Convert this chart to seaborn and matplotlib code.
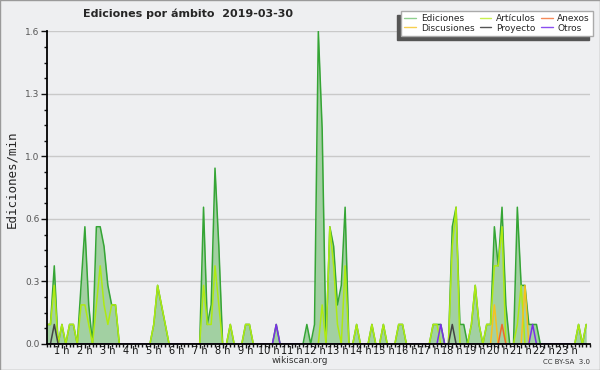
import numpy as np
import pandas as pd
import matplotlib
matplotlib.use("Agg")
import matplotlib.pyplot as plt
from matplotlib.lines import Line2D
from matplotlib.patches import Rectangle
import seaborn as sns

# 10-minute bins from 00:20 to 23:50 (edits per minute)
# row "0 h" = 00:20..00:50, then each row = h:00..h:50
ediciones = [
    0.1, 0.1, 0.4, 0.0,
    0.1, 0.0, 0.1, 0.1, 0.0, 0.3,   # 1 h
    0.6, 0.2, 0.0, 0.6, 0.6, 0.5,   # 2 h
    0.3, 0.2, 0.2, 0.0, 0.0, 0.0,   # 3 h
    0.0, 0.0, 0.0, 0.0, 0.0, 0.0,   # 4 h
    0.1, 0.3, 0.2, 0.1, 0.0, 0.0,   # 5 h
    0.0, 0.0, 0.0, 0.0, 0.0, 0.0,   # 6 h
    0.0, 0.7, 0.1, 0.2, 0.9, 0.5,   # 7 h
    0.0, 0.0, 0.1, 0.0, 0.0, 0.0,   # 8 h
    0.1, 0.1, 0.0, 0.0, 0.0, 0.0,   # 9 h
    0.0, 0.0, 0.1, 0.0, 0.0, 0.0,   # 10 h
    0.0, 0.0, 0.0, 0.0, 0.1, 0.0,   # 11 h
    0.1, 1.6, 1.1, 0.0, 0.6, 0.5,   # 12 h
    0.2, 0.3, 0.7, 0.0, 0.0, 0.1,   # 13 h
    0.0, 0.0, 0.0, 0.1, 0.0, 0.0,   # 14 h
    0.1, 0.0, 0.0, 0.0, 0.1, 0.1,   # 15 h
    0.0, 0.0, 0.0, 0.0, 0.0, 0.0,   # 16 h
    0.0, 0.1, 0.1, 0.1, 0.0, 0.0,   # 17 h
    0.6, 0.7, 0.1, 0.1, 0.0, 0.1,   # 18 h
    0.3, 0.1, 0.0, 0.1, 0.1, 0.6,   # 19 h
    0.4, 0.7, 0.2, 0.0, 0.0, 0.7,   # 20 h
    0.3, 0.3, 0.1, 0.1, 0.1, 0.0,   # 21 h
    0.0, 0.0, 0.0, 0.0, 0.0, 0.0,   # 22 h
    0.0, 0.0, 0.0, 0.1, 0.0, 0.1,   # 23 h
]

articulos = [
    0.1, 0.1, 0.3, 0.0,
    0.1, 0.0, 0.1, 0.1, 0.0, 0.2,
    0.2, 0.1, 0.0, 0.2, 0.4, 0.2,
    0.1, 0.2, 0.2, 0.0, 0.0, 0.0,
    0.0, 0.0, 0.0, 0.0, 0.0, 0.0,
    0.1, 0.3, 0.2, 0.1, 0.0, 0.0,
    0.0, 0.0, 0.0, 0.0, 0.0, 0.0,
    0.0, 0.3, 0.1, 0.1, 0.4, 0.2,
    0.0, 0.0, 0.1, 0.0, 0.0, 0.0,
    0.1, 0.1, 0.0, 0.0, 0.0, 0.0,
    0.0, 0.0, 0.0, 0.0, 0.0, 0.0,
    0.0, 0.0, 0.0, 0.0, 0.0, 0.0,
    0.0, 0.0, 0.2, 0.0, 0.6, 0.4,
    0.1, 0.0, 0.4, 0.0, 0.0, 0.1,
    0.0, 0.0, 0.0, 0.1, 0.0, 0.0,
    0.1, 0.0, 0.0, 0.0, 0.1, 0.1,
    0.0, 0.0, 0.0, 0.0, 0.0, 0.0,
    0.0, 0.1, 0.1, 0.0, 0.0, 0.0,
    0.5, 0.7, 0.0, 0.0, 0.0, 0.1,
    0.3, 0.1, 0.0, 0.1, 0.1, 0.4,
    0.4, 0.6, 0.0, 0.0, 0.0, 0.1,
    0.3, 0.0, 0.0, 0.0, 0.0, 0.0,
    0.0, 0.0, 0.0, 0.0, 0.0, 0.0,
    0.0, 0.0, 0.0, 0.1, 0.0, 0.1,
]

# sparse namespaces: (bin index, value), every other bin is zero
discusiones_pts = [(117, 0.2), (125, 0.3)]
anexos_pts = [(119, 0.1)]
proyecto_pts = [(2, 0.1), (106, 0.1)]
otros_pts = [(60, 0.1), (103, 0.1), (127, 0.1)]

hour_labels = [f"{h} h" for h in range(1, 24)]

series_names = ["Ediciones", "Artículos", "Discusiones", "Anexos", "Proyecto", "Otros"]
line_colors = {"Ediciones": "#35a535", "Artículos": "#aeea12", "Discusiones": "#f7c21e",
               "Anexos": "#f0682a", "Proyecto": "#444444", "Otros": "#7a2ee8"}
legend_colors = {"Ediciones": "#8fd08f", "Artículos": "#c8f050", "Discusiones": "#f7cf50",
                 "Anexos": "#f58a5a", "Proyecto": "#555555", "Otros": "#8a4ef0"}

n = len(ediciones)
hours = 1 / 3 + np.arange(n) / 6


def sparse_to_list(pts):
    vals = [0.0] * n
    for i, v in pts:
        vals[i] = v
    return vals


values = {
    "Ediciones": ediciones,
    "Artículos": articulos,
    "Discusiones": sparse_to_list(discusiones_pts),
    "Anexos": sparse_to_list(anexos_pts),
    "Proyecto": sparse_to_list(proyecto_pts),
    "Otros": sparse_to_list(otros_pts),
}
df = pd.concat([pd.DataFrame({"hora": hours, "valor": values[s], "serie": s}) for s in series_names],
               ignore_index=True)

bg = "#eeeff1"
sns.set_style("white")
plt.rcParams["font.family"] = ["DejaVu Sans"]

fig = plt.figure(figsize=(6, 3.7), dpi=100, facecolor=bg)
ax = fig.add_axes([0.0777, 0.0703, 0.9057, 0.845])
ax.set_facecolor(bg)

ax.fill_between(hours, ediciones, 0, color="#a2d0a2", lw=0, zorder=1.5)
sns.lineplot(data=df, x="hora", y="valor", hue="serie", hue_order=series_names,
             palette=line_colors, estimator=None, legend=False, linewidth=1.1, ax=ax)

ax.set_xlim(1 / 3, 24)
ax.set_ylim(0, 1.6)
ax.set_xticks(np.arange(1, 24))
ax.set_xticklabels(hour_labels)
ax.set_xticks(1 / 3 + np.arange(0, 143) / 6, minor=True)
yt = np.arange(0, 1.61, 0.32)
ax.set_yticks(yt)
ax.set_yticklabels([f"{v:.1f}" for v in yt])
ax.set_yticks(np.arange(0, 1.61, 0.08), minor=True)
ax.tick_params(axis="x", which="major", length=2.6, width=1, labelsize=7, pad=-0.8, colors="#111")
ax.tick_params(axis="x", which="minor", length=2.2, width=1, color="#111")
ax.tick_params(axis="y", which="major", length=4, width=1, labelsize=6.5, pad=1,
               colors="#111", labelcolor="#555")
ax.tick_params(axis="y", which="minor", length=2.2, width=1, color="#111")
ax.tick_params(which="both", direction="out", bottom=True, left=True)
ax.grid(axis="y", which="major", color="#c9c9c9", lw=1)
ax.set_axisbelow(True)
for s in ["top", "right"]:
    ax.spines[s].set_visible(False)
for s in ["left", "bottom"]:
    ax.spines[s].set_color("black")
    ax.spines[s].set_linewidth(1.3)
    ax.spines[s].set_zorder(10)
ax.set_xlabel("")
ax.set_ylabel("Ediciones/min", fontsize=9, family="DejaVu Sans Mono")
ax.yaxis.set_label_coords(-0.053, 0.528)

fig.text(0.313, 0.962, "Ediciones por ámbito  2019-03-30", ha="center", va="center",
         fontsize=8, fontweight="bold")
fig.text(0.5, 0.025, "wikiscan.org", ha="center", va="center", fontsize=6.5, color="#333")
fig.text(0.983, 0.022, "CC BY-SA  3.0", ha="right", va="center", fontsize=5, color="#333")

legend_order = ["Ediciones", "Discusiones", "Artículos", "Proyecto", "Anexos", "Otros"]
handles = [Line2D([], [], color=legend_colors[s], lw=1) for s in legend_order]
leg = fig.legend(handles, legend_order, ncol=3, loc="upper right",
                 bbox_to_anchor=(593 / 600, 1 - 11 / 370), fontsize=6.5, frameon=True,
                 fancybox=False, edgecolor="#aaaaaa", framealpha=1, handlelength=1.3,
                 handletextpad=0.5, columnspacing=0.6, labelspacing=0.05, borderpad=0.35,
                 borderaxespad=0)
leg.get_frame().set_linewidth(1)

fig.canvas.draw()
bb = leg.get_window_extent().transformed(fig.transFigure.inverted())
fig.add_artist(Rectangle((bb.x0 - 4 / 600, bb.y0 - 4 / 370), bb.width, bb.height,
                         transform=fig.transFigure, color="#555555", zorder=4))
fig.add_artist(Rectangle((0.0008, 0.0013), 0.9984, 0.9974, transform=fig.transFigure,
                         fill=False, ec="#9a9a9a", lw=1, zorder=20))

fig.savefig("out.png", dpi=100, facecolor=bg)
